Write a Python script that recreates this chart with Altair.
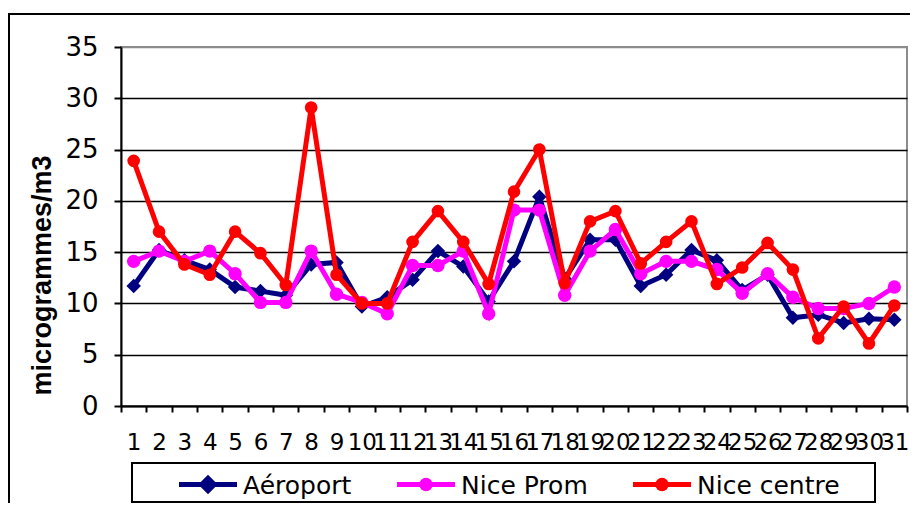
import altair as alt
import pandas as pd

# ---- data ----
days = list(range(1, 32))
aeroport = [11.7, 15.2, 14.2, 13.3, 11.6, 11.2, 10.8, 13.8, 14.0, 9.7,
            10.6, 12.3, 15.1, 13.6, 10.2, 14.1, 20.4, 12.4, 16.2, 16.2,
            11.7, 12.8, 15.2, 14.2, 11.3, 12.8, 8.6, 8.9, 8.1, 8.5, 8.4]
nice_prom = [14.1, 15.1, 14.1, 15.1, 12.9, 10.1, 10.1, 15.1, 10.9, 10.1,
             9.0, 13.7, 13.7, 15.1, 9.0, 19.1, 19.1, 10.8, 15.1, 17.2,
             12.9, 14.1, 14.1, 13.3, 11.0, 12.9, 10.6, 9.5, 9.5, 10.0, 11.6]
nice_centre = [23.9, 17.0, 13.8, 12.8, 17.0, 14.9, 11.8, 29.1, 12.8, 10.0,
               10.0, 16.0, 19.0, 16.0, 11.9, 20.9, 25.0, 12.0, 18.0, 19.0,
               13.9, 16.0, 18.0, 11.9, 13.5, 15.9, 13.3, 6.6, 9.7, 6.1, 9.8]
series_names = ["Aéroport", "Nice Prom", "Nice centre"]
y_ticks = [0, 5, 10, 15, 20, 25, 30, 35]
y_title = "microgrammes/m3"

# ---- styles ----
series_colors = ["#000080", "#FF00FF", "#FF0000"]
marker_shapes = ["diamond", "circle", "circle"]
marker_sizes = [210, 180, 160]
legend_marker_sizes = [380, 180, 180]
legend_symbol_left = [58, 276, 512]    # legend layout (pixels in the plot frame)
legend_symbol_width = 58
legend_y = 437.5

rows = []
for name, vals in zip(series_names, [aeroport, nice_prom, nice_centre]):
    for d, v in zip(days, vals):
        rows.append({"day": d, "value": v, "series": name})
df = pd.DataFrame(rows)

x_enc = alt.X(
    "day:O", title=None,
    scale=alt.Scale(type="band", paddingInner=0, paddingOuter=0),
    axis=alt.Axis(
        labelAngle=0, labelFont="DejaVu Sans", labelFontSize=23, labelColor="black",
        labelPadding=19.5, labelOverlap=False, labelBound=False, labelFlush=False,
        tickBand="extent", tickSize=6, tickWidth=2, tickColor="black",
        domainColor="black", domainWidth=2, grid=False,
    ),
)
y_enc = alt.Y(
    "value:Q", title=y_title,
    scale=alt.Scale(domain=[0, 35], nice=False, zero=True),
    axis=alt.Axis(
        values=y_ticks, labelFont="DejaVu Sans", labelFontSize=26, labelColor="black",
        labelPadding=16, tickSize=7, tickWidth=2, tickColor="black",
        domainColor="black", domainWidth=2, grid=True, gridWidth=1.6,
        gridColor=alt.condition("datum.value == 35", alt.value("#8c8c8c"), alt.value("black")),
        titleFont="Liberation Sans", titleFontWeight="bold", titleFontSize=27,
        titleColor="black", titleAngle=270, titleBaseline="alphabetic", titleAlign="center",
        titleX=-71, titleY=228,
    ),
)
color_enc = alt.Color("series:N", scale=alt.Scale(domain=series_names, range=series_colors), legend=None)

base = alt.Chart(df)

layers = []
for name, shp, sz in zip(series_names, marker_shapes, marker_sizes):
    sub = base.transform_filter(alt.datum.series == name)
    layers.append(sub.mark_line(strokeWidth=5).encode(x=x_enc, y=y_enc, color=color_enc))
    layers.append(sub.mark_point(filled=True, shape=shp, size=sz, opacity=1, strokeWidth=0)
                  .encode(x=x_enc, y=y_enc, color=color_enc))

# ---- legend (drawn as its own small layers) ----
legend_layers = []
for name, col, shp, lsz, left in zip(series_names, series_colors, marker_shapes,
                                      legend_marker_sizes, legend_symbol_left):
    ldata = alt.Data(values=[{"series": name}])
    legend_layers.append(
        alt.Chart(ldata).mark_rule(strokeWidth=5, color=col).encode(
            x=alt.value(left), x2=alt.value(left + legend_symbol_width), y=alt.value(legend_y))
    )
    legend_layers.append(
        alt.Chart(ldata).mark_point(filled=True, shape=shp, size=lsz, opacity=1, strokeWidth=0, color=col)
        .encode(x=alt.value(left + legend_symbol_width / 2), y=alt.value(legend_y))
    )
    legend_layers.append(
        alt.Chart(ldata).mark_text(align="left", baseline="middle", font="DejaVu Sans",
                                   fontSize=25, color="black", dy=1)
        .encode(x=alt.value(left + legend_symbol_width + 6), y=alt.value(legend_y),
                text=alt.Text("series:N"))
    )

frame_data = alt.Data(values=[{"k": 1}])
legend_box = alt.Chart(frame_data).mark_rect(fillOpacity=0, stroke="black", strokeWidth=2).encode(
    x=alt.value(11), x2=alt.value(754), y=alt.value(416), y2=alt.value(455)
)
outer_box = alt.Chart(frame_data).mark_rect(fillOpacity=0, stroke="black", strokeWidth=2).encode(
    x=alt.value(-112), x2=alt.value(900), y=alt.value(-33), y2=alt.value(600)
)

chart = alt.layer(outer_box, legend_box, *layers, *legend_layers).properties(
    width=786, height=359,
    autosize=alt.AutoSizeParams(type="none"),
    padding={"left": 113, "top": 39, "right": 3, "bottom": 97},
).configure(font="DejaVu Sans").configure_view(stroke="#8c8c8c", strokeWidth=2)

chart.save("out.html", embed_options={"renderer": "svg", "actions": False})
